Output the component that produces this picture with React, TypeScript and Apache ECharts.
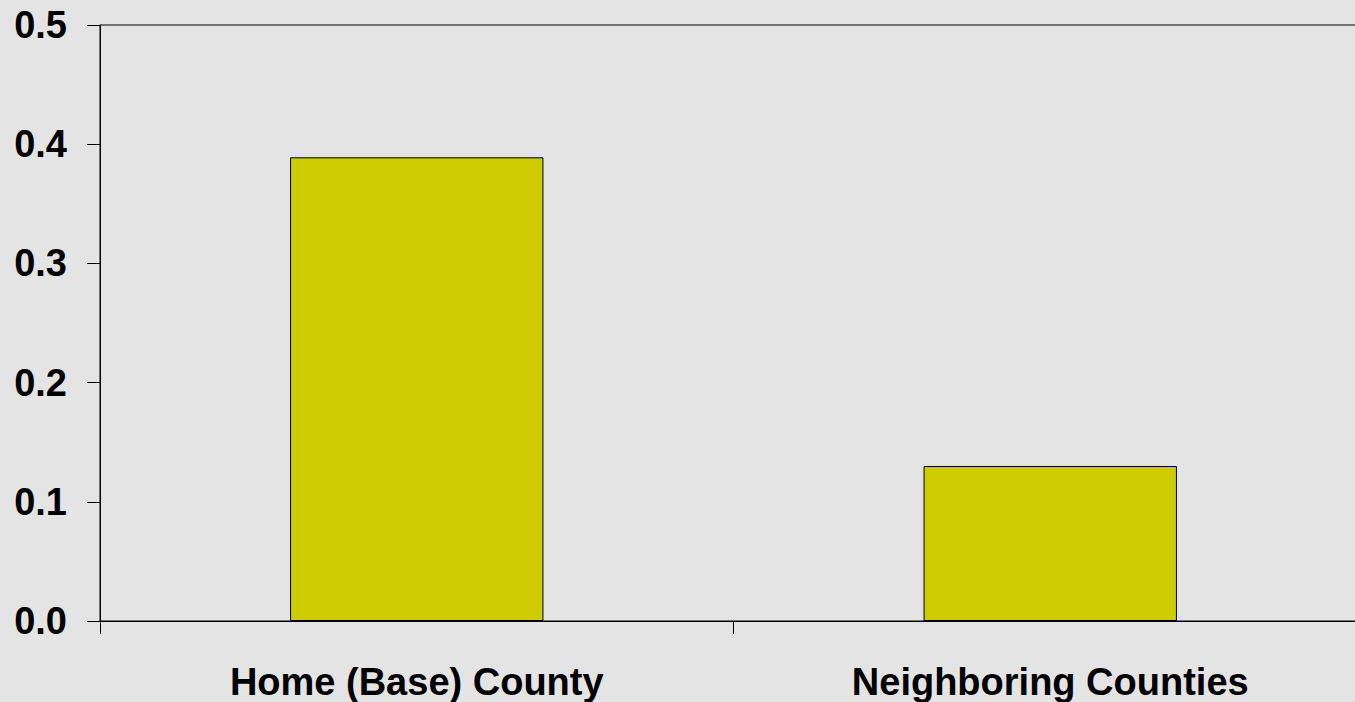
import React, { useEffect, useRef } from "react";
import * as echarts from "echarts";

const categories = ["Home (Base) County", "Neighboring Counties"];
const values = [0.389, 0.13];
const yTicks = [0, 0.1, 0.2, 0.3, 0.4, 0.5];

export default function App() {
  const ref = useRef<HTMLDivElement>(null);
  useEffect(() => {
    if (!ref.current) return;
    const chart = echarts.init(ref.current, null, { renderer: "svg" });
    chart.setOption({
      animation: false,
      backgroundColor: "#e4e4e4",
      grid: {
        left: 100,
        top: 25,
        width: 1267,
        height: 596,
        outerBoundsMode: "none",
        containLabel: false,
        show: true,
        borderColor: "#000",
        borderWidth: 1,
        backgroundColor: "transparent",
      },
      xAxis: {
        type: "category",
        data: categories,
        axisLine: { show: true, lineStyle: { color: "#000", width: 1 } },
        axisTick: { show: true, length: 13, lineStyle: { color: "#000" } },
        axisLabel: {
          color: "#000",
          fontFamily: "Liberation Sans, Arial, sans-serif",
          fontWeight: "bold",
          fontSize: 38,
          lineHeight: 30,
          margin: 46,
        },
        splitLine: { show: false },
      },
      yAxis: {
        type: "value",
        min: yTicks[0],
        max: yTicks[yTicks.length - 1],
        interval: 0.1,
        axisLine: { show: true, lineStyle: { color: "#000", width: 1 } },
        axisTick: { show: true, length: 13, lineStyle: { color: "#000" } },
        axisLabel: {
          color: "#000",
          fontFamily: "Liberation Sans, Arial, sans-serif",
          fontWeight: "bold",
          fontSize: 38,
          margin: 33,
          formatter: (v: number) => v.toFixed(1),
        },
        splitLine: { show: false },
      },
      series: [
        {
          type: "bar",
          data: values,
          barWidth: "40%",
          itemStyle: { color: "#cccc00", borderColor: "#000", borderWidth: 1 },
        },
      ],
    });
    return () => chart.dispose();
  }, []);
  return (
    <div
      ref={ref}
      style={{ position: "fixed", left: 0, top: 0, width: 1355, height: 702 }}
    />
  );
}
